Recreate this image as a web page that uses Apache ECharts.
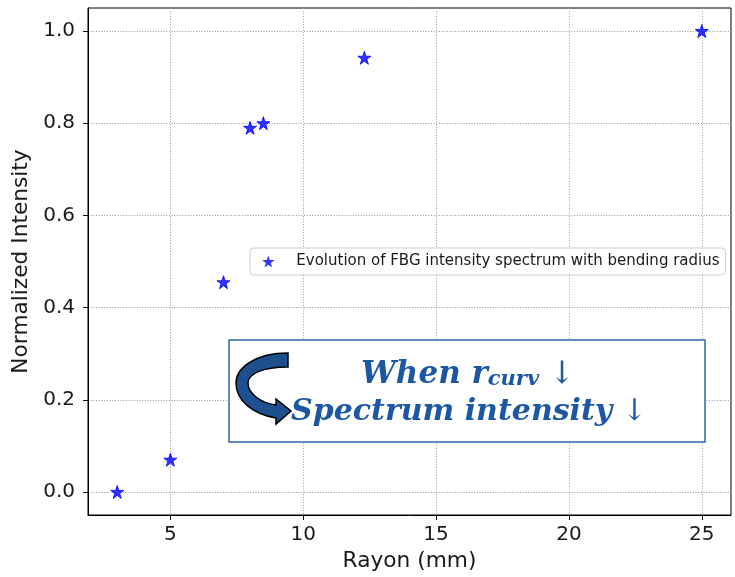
<!DOCTYPE html>
<html>
<head>
<meta charset="utf-8">
<script src="https://cdn.jsdelivr.net/npm/echarts@6/dist/echarts.min.js"></script>
<style>html,body{margin:0;padding:0;background:#fff}#c{width:735px;height:577px}</style>
</head>
<body>
<div id="c"></div>
<script>
const rayon = [3, 5, 7, 8, 8.5, 12.3, 25];
const intensity = [0.0, 0.07, 0.455, 0.79, 0.80, 0.942, 1.0];
const xTicks = [5, 10, 15, 20, 25];
const yTicks = [0.0, 0.2, 0.4, 0.6, 0.8, 1.0];
const seriesName = 'Evolution of FBG intensity spectrum with bending radius';
const xTitle = 'Rayon (mm)';
const yTitle = 'Normalized Intensity';
const noteLine1 = 'When r';
const noteSub = 'curv';
const noteLine2 = 'Spectrum intensity';

echarts.graphic.registerShape('curvedArrow', echarts.graphic.extendShape({
  shape: {},
  buildPath: function (ctx) {
    ctx.moveTo(288, 353);
    ctx.bezierCurveTo(255, 353, 236, 368, 236, 383);
    ctx.bezierCurveTo(236, 400, 252, 414, 276, 418);
    ctx.lineTo(276, 424);
    ctx.lineTo(291, 411);
    ctx.lineTo(276, 399);
    ctx.lineTo(276, 405);
    ctx.bezierCurveTo(260, 403, 248, 393, 248, 383);
    ctx.bezierCurveTo(248, 374, 262, 367, 288, 367);
    ctx.closePath();
  }
}));

const star = 'path://M0,-100 L-22.45,-30.9 L-95.1,-30.9 L-36.3,11.8 L-58.8,80.9 L0,38.2 L58.8,80.9 L36.3,11.8 L95.1,-30.9 L22.45,-30.9 Z';
const chart = echarts.init(document.getElementById('c'));
const gridLine = {show: true, lineStyle: {color: '#999999', width: 1, type: [1, 1.7]}};
const noteColor = '#1b57a3';
const noteFont = '"DejaVu Serif", serif';
chart.setOption({
  animation: false,
  backgroundColor: '#fff',
  grid: {left: 88, right: 4, top: 8, bottom: 61, show: true, borderColor: '#000', borderWidth: 1, backgroundColor: 'transparent'},
  xAxis: {
    type: 'value', min: 1.9, max: 26.1,
    name: xTitle, nameLocation: 'middle', nameGap: 35,
    nameTextStyle: {fontFamily: 'DejaVu Sans', fontSize: 21.7, color: '#1a1a1a'},
    axisLine: {show: true, onZero: false, lineStyle: {color: '#000', width: 1}},
    axisTick: {show: true, length: 5, customValues: xTicks, lineStyle: {color: '#000'}},
    axisLabel: {customValues: xTicks, fontFamily: 'DejaVu Sans', fontSize: 20, color: '#1a1a1a', margin: 10},
    splitLine: gridLine
  },
  yAxis: {
    type: 'value', min: -0.05, max: 1.05,
    name: yTitle, nameLocation: 'middle', nameGap: 55,
    nameTextStyle: {fontFamily: 'DejaVu Sans', fontSize: 21.7, color: '#1a1a1a'},
    axisLine: {show: true, onZero: false, lineStyle: {color: '#000', width: 1}},
    axisTick: {show: true, length: 5, customValues: yTicks, lineStyle: {color: '#000'}},
    axisLabel: {customValues: yTicks, fontFamily: 'DejaVu Sans', fontSize: 20, color: '#1a1a1a', margin: 13,
      formatter: v => v.toFixed(1)},
    splitLine: gridLine
  },
  legend: {
    left: 250, top: 248,
    padding: [6, 6, 6, 12],
    borderColor: '#d0d0d0', borderWidth: 1, borderRadius: 4,
    backgroundColor: 'rgba(255,255,255,0.8)',
    itemWidth: 14, itemHeight: 12,
    textStyle: {fontFamily: 'DejaVu Sans', fontSize: 15, color: '#1a1a1a', padding: [0, 0, 0, 16]},
    data: [{name: seriesName, icon: star, itemStyle: {borderWidth: 0}}]
  },
  series: [{
    name: seriesName, type: 'scatter', symbol: star, symbolSize: 13,
    itemStyle: {color: '#0000ff', borderColor: '#0000ff', borderWidth: 1},
    data: rayon.map((x, i) => [x, intensity[i]]),
    z: 5
  }],
  graphic: [
    {type: 'rect', x: 229, y: 340, z: 100,
     shape: {x: 0, y: 0, width: 476, height: 102},
     style: {fill: '#fff', stroke: '#2e68a6', lineWidth: 1.5}},
    {type: 'curvedArrow', z: 101, shape: {},
     style: {fill: '#1e4f8f', stroke: '#000', lineWidth: 1.5}},
    {type: 'text', z: 102, x: 468, y: 372,
     style: {text: '{a|' + noteLine1 + '}{b|' + noteSub + '}{c| ↓}', align: 'center', verticalAlign: 'middle',
       rich: {
         a: {fontFamily: noteFont, fontWeight: 'bold', fontStyle: 'italic', fontSize: 31, fill: noteColor, lineHeight: 36, verticalAlign: 'bottom'},
         b: {fontFamily: noteFont, fontWeight: 'bold', fontStyle: 'italic', fontSize: 21, fill: noteColor, lineHeight: 16, verticalAlign: 'bottom'},
         c: {fontFamily: noteFont, fontSize: 31, fill: noteColor, lineHeight: 36, verticalAlign: 'bottom'}
       }}},
    {type: 'text', z: 102, x: 469, y: 412,
     style: {text: '{a|' + noteLine2 + '}{c| ↓}', align: 'center', verticalAlign: 'middle',
       rich: {
         a: {fontFamily: noteFont, fontWeight: 'bold', fontStyle: 'italic', fontSize: 30, fill: noteColor, lineHeight: 36},
         c: {fontFamily: noteFont, fontSize: 30, fill: noteColor, lineHeight: 36}
       }}}
  ]
});
</script>
</body>
</html>
